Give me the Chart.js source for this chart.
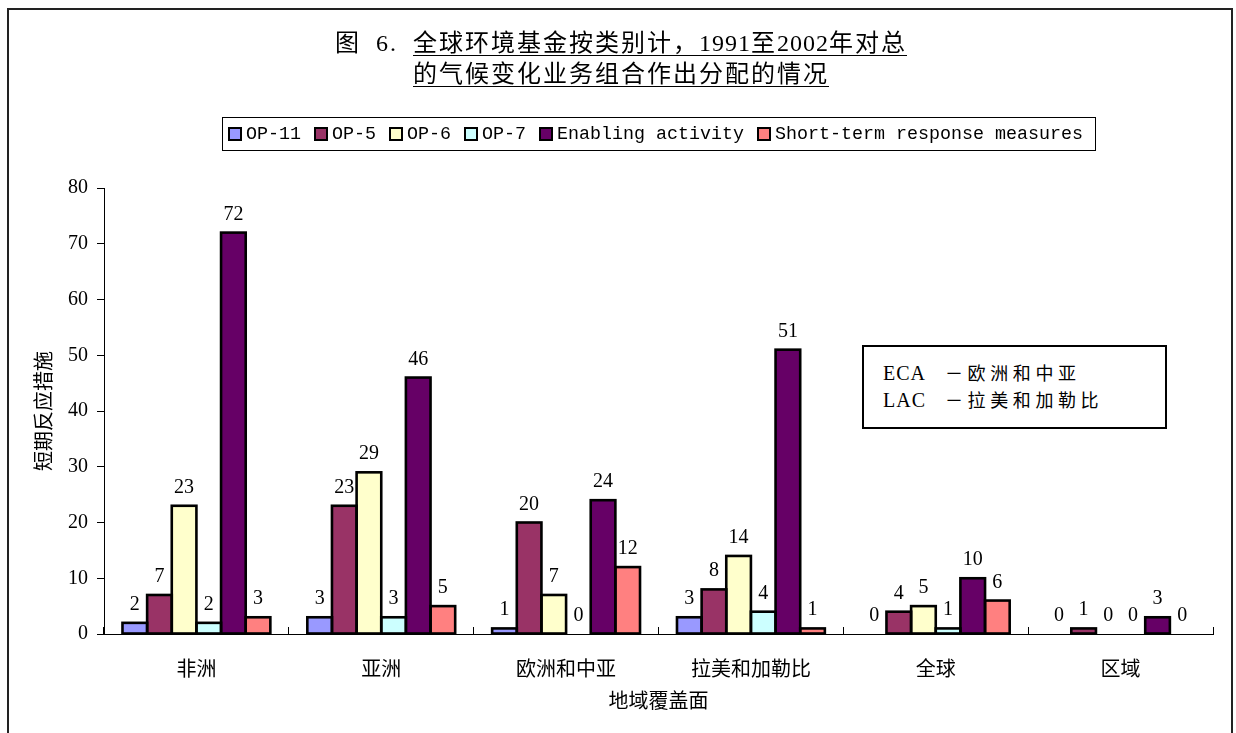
<!DOCTYPE html>
<html><head><meta charset="utf-8">
<script src="https://cdn.jsdelivr.net/npm/chart.js@4.4.1/dist/chart.umd.min.js"></script>
<style>
html,body{margin:0;padding:0;background:#fff;}
#wrap{position:relative;width:1236px;height:733px;overflow:hidden;background:#fff;}
#frame{position:absolute;left:7px;top:8px;width:1226px;height:1000px;border:2px solid #222;box-sizing:border-box;}
#c{position:absolute;left:0;top:0;}
#title{position:absolute;left:0;width:1242px;top:28px;text-align:center;font-family:"Liberation Serif","Noto Sans CJK SC";font-size:24px;line-height:31px;color:#000;letter-spacing:2px;}
#title u{text-decoration:underline;text-decoration-thickness:1px;text-underline-offset:4px;}
#title .d{letter-spacing:1px;}
#title .w{word-spacing:7px;}
#legend{position:absolute;left:222px;top:117px;width:874px;height:34px;border:1px solid #000;box-sizing:border-box;display:flex;align-items:center;padding-left:5px;font-family:"Liberation Mono",monospace;font-size:18.33px;color:#000;white-space:nowrap;}
.item{display:flex;align-items:center;margin-right:13px;}
.sw{width:14px;height:14px;border:2px solid #000;box-sizing:border-box;margin-right:4px;}
#note{position:absolute;left:862px;top:345px;width:305px;height:84px;border:2px solid #000;box-sizing:border-box;background:#fff;}
.nl{position:absolute;left:19px;height:26px;line-height:26px;white-space:nowrap;color:#000;}
.ab{display:inline-block;width:62px;font-family:"Liberation Serif";font-size:20px;letter-spacing:1px;}
.zh{font-family:"Noto Sans CJK SC";font-size:18px;letter-spacing:4.6px;}
</style></head>
<body><div id="wrap">
<div id="frame"></div>
<canvas id="c" width="1236" height="733"></canvas>
<div id="title"><div class="w">图 6. <u>全球环境基金按类别计，<span class="d">1991</span>至<span class="d">2002</span>年对总</u></div><div><u>的气候变化业务组合作出分配的情况</u></div></div>
<div id="legend"></div>
<div id="note"><div class="nl" style="top:12px"><span class="ab">ECA</span><span class="zh">－欧洲和中亚</span></div><div class="nl" style="top:39px"><span class="ab">LAC</span><span class="zh">－拉美和加勒比</span></div></div>
</div>
<script>
const categories = ['非洲','亚洲','欧洲和中亚','拉美和加勒比','全球','区域'];
const seriesNames = ['OP-11','OP-5','OP-6','OP-7','Enabling activity','Short-term response measures'];
const op11 = [2,3,1,3,0,0];
const op5 = [7,23,20,8,4,1];
const op6 = [23,29,7,14,5,0];
const op7 = [2,3,0,4,1,0];
const enabling = [72,46,24,51,10,3];
const shortTerm = [3,5,12,1,6,0];
const yTicks = [0,10,20,30,40,50,60,70,80];
const colors = ['#9999FF','#993366','#FFFFCC','#CCFFFF','#660066','#FF8080'];
const seriesValues = [op11,op5,op6,op7,enabling,shortTerm];

const datasets = seriesNames.map((n,i)=>({
  label:n,
  data:seriesValues[i],
  backgroundColor:colors[i],
  borderColor:'#000',
  borderWidth:0,
  categoryPercentage:0.8,
  barPercentage:1.0
}));

// HTML legend
const lg=document.getElementById('legend');
datasets.forEach(d=>{
  const it=document.createElement('div');it.className='item';
  const sw=document.createElement('span');sw.className='sw';sw.style.background=d.backgroundColor;
  const tx=document.createElement('span');tx.textContent=d.label;
  it.appendChild(sw);it.appendChild(tx);lg.appendChild(it);
});

// Excel-style outlines (centered on bar edges) + value labels
const barDecor={
  id:'barDecor',
  afterDatasetsDraw(chart){
    const ctx=chart.ctx;
    ctx.save();
    ctx.strokeStyle='#000';
    ctx.lineWidth=2.6;
    ctx.lineJoin='miter';
    chart.data.datasets.forEach((ds,di)=>{
      const meta=chart.getDatasetMeta(di);
      meta.data.forEach((el,i)=>{
        if(ds.data[i]===0) return;
        const p=el.getProps(['x','y','base','width'],true);
        ctx.strokeRect(p.x-p.width/2,p.y,p.width,p.base-p.y);
      });
    });
    ctx.font='20px "Liberation Serif"';
    ctx.fillStyle='#000';
    ctx.textAlign='center';
    ctx.textBaseline='alphabetic';
    chart.data.datasets.forEach((ds,di)=>{
      const meta=chart.getDatasetMeta(di);
      meta.data.forEach((el,i)=>{
        ctx.fillText(String(ds.data[i]),el.x,el.y-13);
      });
    });
    ctx.restore();
  }
};

const cjk='"Noto Sans CJK SC"';
new Chart(document.getElementById('c'),{
  type:'bar',
  data:{labels:categories,datasets},
  options:{
    responsive:false,
    animation:false,
    devicePixelRatio:1,
    layout:{padding:{left:31,right:23,top:188,bottom:21}},
    plugins:{legend:{display:false},title:{display:false},tooltip:{enabled:false}},
    scales:{
      x:{
        grid:{display:true,drawOnChartArea:false,drawTicks:true,tickLength:-7,color:'#000',lineWidth:1,offset:true},
        border:{display:true,color:'#000',width:1},
        ticks:{font:{family:cjk,size:20},color:'#000',padding:29,maxRotation:0,autoSkip:false},
        title:{display:true,text:'地域覆盖面',font:{family:cjk,size:20},color:'#000',padding:0},
        afterFit(s){s.height=78;}
      },
      y:{
        min:0,max:80,
        afterBuildTicks(s){s.ticks=yTicks.map(v=>({value:v}));},
        ticks:{font:{family:'"Liberation Serif"',size:20},color:'#000',padding:9},
        grid:{drawOnChartArea:false,drawTicks:true,tickLength:7,color:'#000',lineWidth:1},
        border:{display:true,color:'#000',width:1},
        title:{display:true,text:'短期反应措施',font:{family:cjk,size:20},color:'#000',padding:0},
        afterFit(s){s.width=73;}
      }
    }
  },
  plugins:[barDecor]
});
</script>
</body></html>
